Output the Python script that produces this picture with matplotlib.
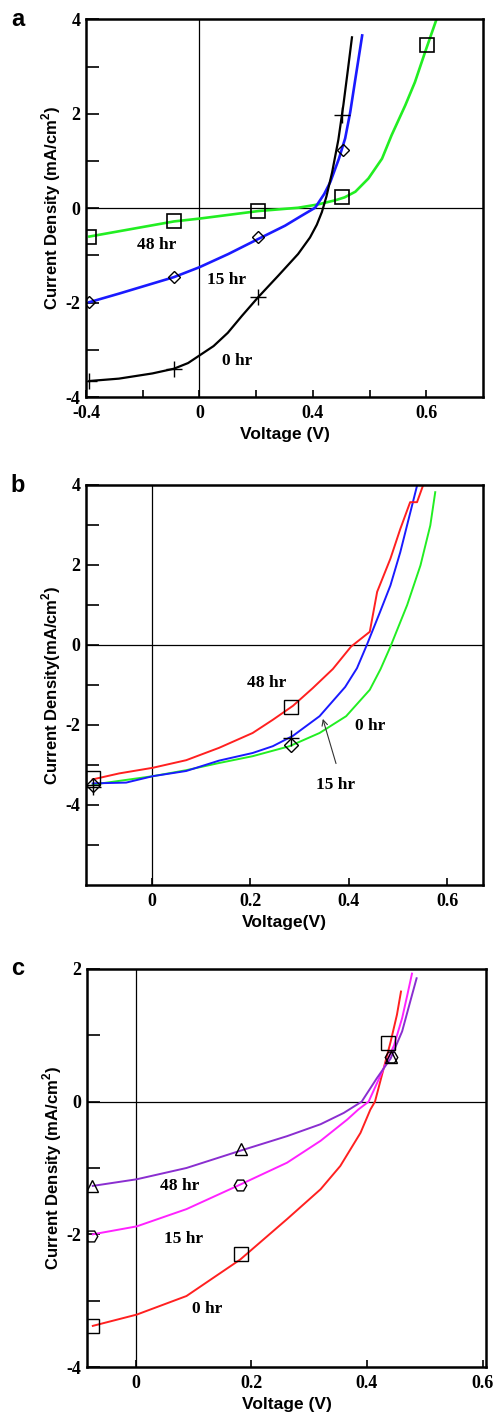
import numpy as np
import matplotlib
matplotlib.use("Agg")
import matplotlib.pyplot as plt

plt.rcParams['mathtext.fontset'] = 'custom'
plt.rcParams['mathtext.rm'] = 'Liberation Sans'
plt.rcParams['mathtext.bf'] = 'Liberation Sans:bold'

SERIF = 'Liberation Serif'
SANS = 'Liberation Sans'

# ---- panel a (x positions on a uniform scale; printed tick labels as in the figure)
a_ticks = [-0.2, 0.0, 0.2, 0.4]
a_ticklabels = ['-0.4', '0', '0.4', '0.6']
a0_v = [-0.194, -0.142, -0.083, -0.045, -0.020, 0.0, 0.025, 0.050, 0.075, 0.104, 0.139, 0.174,
        0.195, 0.207, 0.216, 0.224, 0.234, 0.245, 0.254, 0.262, 0.269]
a0_j = [-3.66, -3.61, -3.50, -3.40, -3.28, -3.12, -2.92, -2.64, -2.28, -1.88, -1.43, -0.97,
        -0.62, -0.35, -0.08, 0.25, 0.76, 1.45, 2.20, 2.95, 3.62]
a15_v = [-0.194, -0.142, -0.045, 0.0, 0.051, 0.104, 0.151, 0.180, 0.204, 0.220, 0.231, 0.246,
         0.257, 0.266, 0.275, 0.287]
a15_j = [-1.99, -1.81, -1.46, -1.25, -0.97, -0.65, -0.37, -0.16, 0.01, 0.30, 0.56, 1.05,
         1.48, 2.04, 2.74, 3.66]
a48_v = [-0.194, -0.045, 0.0, 0.104, 0.174, 0.209, 0.240, 0.256, 0.275, 0.298, 0.322, 0.339,
         0.363, 0.380, 0.398, 0.418]
a48_j = [-0.60, -0.28, -0.22, -0.06, 0.01, 0.08, 0.17, 0.23, 0.35, 0.63, 1.05, 1.55,
         2.18, 2.67, 3.31, 4.00]
a0_mv = [-0.194, -0.045, 0.104, 0.251]
a0_mj = [-3.66, -3.40, -1.88, 1.97]
a15_mv = [-0.194, -0.045, 0.104, 0.254]
a15_mj = [-1.99, -1.46, -0.61, 1.23]
a48_mv = [-0.194, -0.045, 0.104, 0.251, 0.401]
a48_mj = [-0.60, -0.28, -0.06, 0.24, 3.45]

# ---- panel b
b48_v = [-0.120, -0.066, 0.002, 0.070, 0.137, 0.205, 0.246, 0.287, 0.327, 0.368, 0.405, 0.443,
         0.458, 0.485, 0.505, 0.525, 0.539, 0.551]
b48_j = [-3.36, -3.21, -3.07, -2.88, -2.57, -2.20, -1.87, -1.52, -1.08, -0.60, -0.04, 0.33,
         1.33, 2.16, 2.90, 3.57, 3.57, 3.98]
b15_v = [-0.120, -0.052, 0.002, 0.070, 0.137, 0.205, 0.246, 0.287, 0.341, 0.393, 0.417, 0.437,
         0.464, 0.485, 0.505, 0.522, 0.539]
b15_j = [-3.46, -3.44, -3.28, -3.15, -2.89, -2.70, -2.53, -2.27, -1.78, -1.05, -0.58, 0.0,
         0.83, 1.49, 2.32, 3.15, 3.98]
b0_v = [-0.120, 0.002, 0.070, 0.137, 0.205, 0.280, 0.341, 0.395, 0.443, 0.465, 0.485, 0.519,
        0.546, 0.566, 0.576]
b0_j = [-3.49, -3.28, -3.13, -2.95, -2.78, -2.53, -2.20, -1.78, -1.12, -0.60, -0.04, 1.00,
        1.99, 2.99, 3.82]
b48_mv = [-0.119, 0.283]
b48_mj = [-3.32, -1.55]
b15_mv = [-0.119, 0.283]
b15_mj = [-3.55, -2.32]
b0_mv = [-0.119, 0.283]
b0_mj = [-3.49, -2.49]

# ---- panel c
c0_v = [-0.074, 0.002, 0.088, 0.181, 0.262, 0.320, 0.354, 0.389, 0.406, 0.414, 0.429, 0.441,
        0.452, 0.459]
c0_j = [-3.38, -3.21, -2.93, -2.38, -1.77, -1.32, -0.97, -0.47, -0.12, 0.0, 0.50, 0.90,
        1.31, 1.66]
c15_v = [-0.074, 0.002, 0.088, 0.181, 0.262, 0.320, 0.366, 0.385, 0.403, 0.429, 0.447, 0.461,
         0.470, 0.478]
c15_j = [-2.00, -1.88, -1.62, -1.25, -0.92, -0.59, -0.27, -0.12, 0.0, 0.50, 0.85, 1.26,
         1.61, 1.93]
c48_v = [-0.074, 0.002, 0.088, 0.181, 0.262, 0.320, 0.360, 0.391, 0.417, 0.441, 0.461, 0.475,
         0.486]
c48_j = [-1.27, -1.17, -1.00, -0.74, -0.52, -0.34, -0.17, 0.0, 0.35, 0.65, 1.06, 1.51,
         1.86]
c0_mv = [-0.076, 0.183, 0.437]
c0_mj = [-3.38, -2.30, 0.88]
c15_mv = [-0.077, 0.181, 0.441]
c15_mj = [-2.03, -1.25, 0.68]
c48_mv = [-0.076, 0.183, 0.441]
c48_mj = [-1.27, -0.72, 0.68]


def style(ax, xlim, ylim, yticks, ylabels, yminor, xticks, xlabels, xminor, ylab, xlab):
    ax.set_xlim(*xlim)
    ax.set_ylim(*ylim)
    ax.axhline(0, color='black', lw=0.9, zorder=1)
    ax.axvline(0, color='black', lw=0.9, zorder=1)
    for s in ax.spines.values():
        s.set_linewidth(1.8)
    ax.set_yticks(yticks)
    ax.set_yticklabels(ylabels, fontfamily=SERIF, fontweight='bold', fontsize=13)
    ax.set_yticks(yminor, minor=True)
    ax.set_xticks(xticks)
    ax.set_xticklabels(xlabels, fontfamily=SERIF, fontweight='bold', fontsize=13)
    ax.set_xticks(xminor, minor=True)
    ax.tick_params(axis='y', which='both', direction='in', length=9, width=1.2, pad=4)
    ax.tick_params(axis='x', which='both', direction='in', length=5, width=1.2, pad=6)
    ax.set_ylabel(ylab, fontfamily=SANS, fontweight='bold', fontsize=12, labelpad=2)
    ax.set_xlabel(xlab, fontfamily=SANS, fontweight='bold', fontsize=12.5, labelpad=3)


def hr_text(ax, x, y, s):
    ax.text(x, y, s, fontfamily=SERIF, fontweight='bold', fontsize=12.5, ha='center', va='center')


fig = plt.figure(figsize=(4.95, 14.16), dpi=100)

# panel a
ax1 = fig.add_axes([0.1737, 0.7196, 0.802, 0.2667])
ax1.plot(a48_v, a48_j, color='#22ee22', lw=1.9, zorder=2)
ax1.plot(a15_v, a15_j, color='#1a1aff', lw=1.9, zorder=2)
ax1.plot(a0_v, a0_j, color='black', lw=1.6, zorder=2)
ax1.plot(a48_mv, a48_mj, ls='none', marker='s', ms=10, mfc='none', mec='black', mew=1.2, zorder=3)
ax1.plot(a15_mv, a15_mj, ls='none', marker='D', ms=6, mfc='none', mec='black', mew=1.0, zorder=3)
ax1.plot(a0_mv, a0_mj, ls='none', marker='+', ms=11, mec='black', mew=1.0, zorder=3)
hr_text(ax1, -0.076, -0.77, '48 hr')
hr_text(ax1, 0.047, -1.51, '15 hr')
hr_text(ax1, 0.067, -3.24, '0 hr')
style(ax1, (-0.2, 0.5), (-4, 4), [-4, -2, 0, 2, 4], ['-4', '-2', '0', '2', '4'], [-3, -1, 1, 3],
      a_ticks, a_ticklabels, [-0.1, 0.1, 0.3],
      r'Current Density (mA/cm$^{\mathbf{2}}$)', 'Voltage (V)')

# panel b
ax2 = fig.add_axes([0.1737, 0.375, 0.802, 0.2825])
ax2.plot(b0_v, b0_j, color='#22ee22', lw=1.4, zorder=2)
ax2.plot(b15_v, b15_j, color='#1a1aff', lw=1.4, zorder=2)
ax2.plot(b48_v, b48_j, color='#ff2020', lw=1.4, zorder=2)
ax2.plot(b48_mv, b48_mj, ls='none', marker='s', ms=10, mfc='none', mec='black', mew=1.0, zorder=3)
ax2.plot(b15_mv, b15_mj, ls='none', marker='+', ms=11, mec='black', mew=1.0, zorder=3)
ax2.plot(b0_mv, b0_mj, ls='none', marker='D', ms=7, mfc='none', mec='black', mew=1.0, zorder=3)
hr_text(ax2, 0.234, -0.95, '48 hr')
hr_text(ax2, 0.444, -2.03, '0 hr')
hr_text(ax2, 0.373, -3.49, '15 hr')
ax2.annotate('', xy=(0.346, -1.78), xytext=(0.376, -3.03),
             arrowprops=dict(arrowstyle='->', color='#333333', lw=0.8))
style(ax2, (-0.1336, 0.673), (-6, 4), [-4, -2, 0, 2, 4], ['-4', '-2', '0', '2', '4'], [-5, -3, -1, 1, 3],
      [0, 0.2, 0.4, 0.6], ['0', '0.2', '0.4', '0.6'], [],
      r'Current Density(mA/cm$^{\mathbf{2}}$)', 'Voltage(V)')

# panel c
ax3 = fig.add_axes([0.1758, 0.0346, 0.806, 0.2811])
ax3.plot(c0_v, c0_j, color='#ff2020', lw=1.4, zorder=2)
ax3.plot(c15_v, c15_j, color='#ff22ff', lw=1.4, zorder=2)
ax3.plot(c48_v, c48_j, color='#8a2ed0', lw=1.4, zorder=2)
ax3.plot(c0_mv, c0_mj, ls='none', marker='s', ms=10, mfc='none', mec='black', mew=1.0, zorder=3)
ax3.plot(c15_mv, c15_mj, ls='none', marker='H', ms=9, mfc='none', mec='black', mew=1.0, zorder=3)
ax3.plot(c48_mv, c48_mj, ls='none', marker='^', ms=8, mfc='none', mec='black', mew=1.0, zorder=3)
hr_text(ax3, 0.076, -1.27, '48 hr')
hr_text(ax3, 0.082, -2.07, '15 hr')
hr_text(ax3, 0.123, -3.13, '0 hr')
style(ax3, (-0.084, 0.606), (-4, 2), [-4, -2, 0, 2], ['-4', '-2', '0', '2'], [-3, -1, 1],
      [0, 0.2, 0.4, 0.6], ['0', '0.2', '0.4', '0.6'], [],
      r'Current Density (mA/cm$^{\mathbf{2}}$)', 'Voltage (V)')

for lab, y in [('a', 0.986), ('b', 0.657), ('c', 0.316)]:
    fig.text(0.022, y, lab, fontfamily=SANS, fontweight='bold', fontsize=17, va='center')

fig.savefig('out.png', dpi=100)
